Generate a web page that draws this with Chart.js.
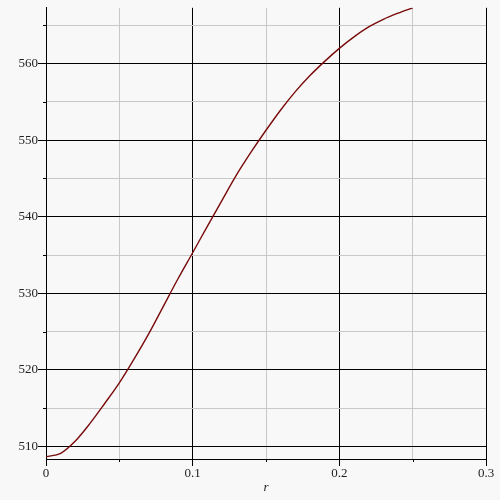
<!DOCTYPE html>
<html>
<head>
<meta charset="utf-8">
<script src="https://cdn.jsdelivr.net/npm/chart.js@4/dist/chart.umd.min.js"></script>
<style>
  html, body { margin: 0; padding: 0; background: #f8f8f8; }
  canvas { display: block; }
</style>
</head>
<body>
<canvas id="plot" width="500" height="500"></canvas>
<script>
// values
const rValues = [0, 0.01, 0.02, 0.03, 0.04, 0.05, 0.06, 0.07, 0.08, 0.09, 0.10, 0.11, 0.12,
                 0.13, 0.14, 0.15, 0.16, 0.17, 0.18, 0.19, 0.20, 0.21, 0.22, 0.23, 0.24, 0.25];
const curveValues = [508.65, 509.1, 510.7, 513.0, 515.6, 518.3, 521.4, 524.7, 528.3, 531.9, 535.3, 538.75, 542.15,
                     545.5, 548.5, 551.3, 553.95, 556.35, 558.45, 560.3, 562.0, 563.5, 564.8, 565.8, 566.6, 567.3];

const xTicks = [0, 0.05, 0.1, 0.15, 0.2, 0.25, 0.3];
const yTicks = [510, 515, 520, 525, 530, 535, 540, 545, 550, 555, 560, 565];
const xRange = [0, 0.3];
const yRange = [508.35, 567.3];

const isMajorX = (v) => Math.abs(v * 10 - Math.round(v * 10)) < 1e-6;
const isMajorY = (v) => v % 10 === 0;

const labelFont = { family: "'Liberation Serif', 'DejaVu Serif', serif", size: 13 };

// short black ticks for the minor steps
const minorTicks = {
    id: 'minorTicks',
    afterDraw(chart) {
        const { ctx, chartArea, scales } = chart;
        ctx.save();
        ctx.strokeStyle = '#000';
        ctx.lineWidth = 1;
        ctx.beginPath();
        for (const v of xTicks) {
            if (isMajorX(v)) continue;
            const px = Math.round(scales.x.getPixelForValue(v)) + 0.5;
            ctx.moveTo(px, chartArea.bottom);
            ctx.lineTo(px, chartArea.bottom + 3);
        }
        for (const v of yTicks) {
            if (isMajorY(v)) continue;
            const py = Math.round(scales.y.getPixelForValue(v)) + 0.5;
            ctx.moveTo(chartArea.left, py);
            ctx.lineTo(chartArea.left - 3, py);
        }
        ctx.stroke();
        ctx.restore();
    }
};

new Chart(document.getElementById('plot'), {
    type: 'line',
    data: {
        datasets: [{
            data: rValues.map((r, i) => ({ x: r, y: curveValues[i] })),
            borderColor: '#780a0a',
            borderWidth: 1.4,
            pointRadius: 0,
            cubicInterpolationMode: 'monotone',
            fill: false
        }]
    },
    options: {
        responsive: false,
        animation: false,
        devicePixelRatio: 1,
        layout: { padding: { top: 6, right: 14, left: 0, bottom: 0 } },
        plugins: {
            legend: { display: false },
            tooltip: { enabled: false }
        },
        scales: {
            x: {
                type: 'linear',
                min: xRange[0],
                max: xRange[1],
                afterBuildTicks: (s) => { s.ticks = xTicks.map(v => ({ value: v })); },
                afterFit: (s) => { s.height = 41; },
                border: { display: true, color: '#000', width: 1 },
                grid: {
                    color: (c) => isMajorX(c.tick.value) ? '#000' : '#c8c8c8',
                    tickColor: (c) => isMajorX(c.tick.value) ? '#000' : 'rgba(0,0,0,0)',
                    tickLength: 7,
                    lineWidth: 1
                },
                ticks: {
                    color: '#222',
                    font: labelFont,
                    padding: 0,
                    maxRotation: 0,
                    autoSkip: false,
                    callback: (v) => isMajorX(v) ? String(Math.round(v * 10) / 10) : ''
                },
                title: {
                    display: true,
                    text: 'r',
                    color: '#222',
                    font: { family: labelFont.family, size: 13, style: 'italic' },
                    padding: { top: 0, bottom: 5 }
                }
            },
            y: {
                type: 'linear',
                min: yRange[0],
                max: yRange[1],
                afterBuildTicks: (s) => { s.ticks = yTicks.map(v => ({ value: v })); },
                afterFit: (s) => { s.width = 46; },
                border: { display: true, color: '#000', width: 1 },
                grid: {
                    color: (c) => isMajorY(c.tick.value) ? '#000' : '#c8c8c8',
                    tickColor: (c) => isMajorY(c.tick.value) ? '#000' : 'rgba(0,0,0,0)',
                    tickLength: 8,
                    lineWidth: 1
                },
                ticks: {
                    color: '#222',
                    font: labelFont,
                    padding: 0,
                    autoSkip: false,
                    callback: (v) => isMajorY(v) ? String(v) : ''
                }
            }
        }
    },
    plugins: [minorTicks]
});
</script>
</body>
</html>
